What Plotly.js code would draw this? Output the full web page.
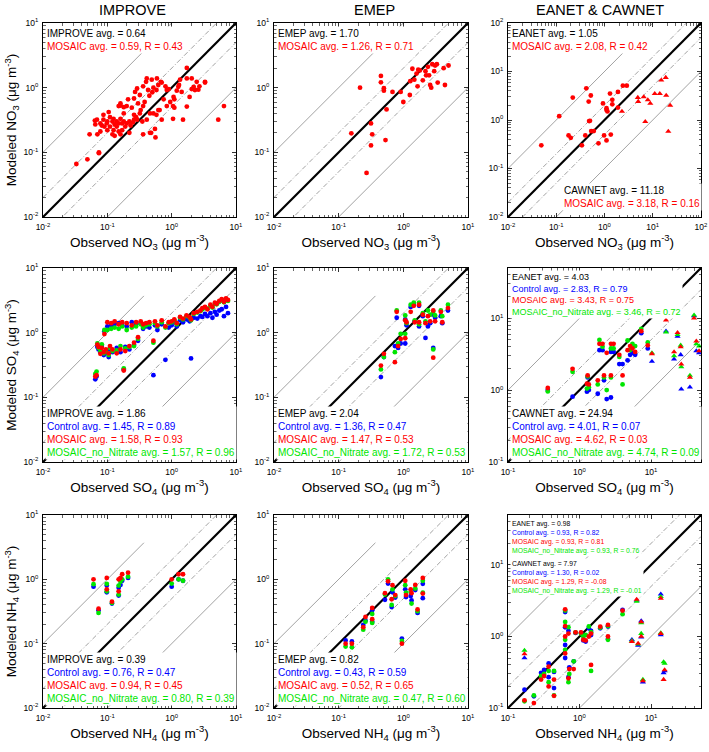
<!DOCTYPE html>
<html>
<head>
<meta charset="utf-8">
<script src="https://cdn.plot.ly/plotly-3.0.1.min.js"></script>
<style>
  html, body { margin: 0; padding: 0; background: #fff; }
  #chart { width: 709px; height: 752px; }
</style>
</head>
<body>
<div id="chart"></div>
<script>
// ---------------- data ----------------
const networkTitles = ["IMPROVE", "EMEP", "EANET &amp; CAWNET"];
const speciesNames = ["NO<sub>3</sub>", "SO<sub>4</sub>", "NH<sub>4</sub>"];

// NO3: [observed, MOSAIC]
const no3Improve = [
  [0.033,0.066],[0.049,0.078],[0.074,0.10],[0.074,0.097],[0.053,0.19],[0.07,0.19],[0.064,0.31],
  [1.72,2.02],[2.05,1.39],[1.72,1.39],[3.3,1.23],[3.3,1.2],[2.45,1.23],[2.7,1.05],[2.2,1.03],
  [2.3,0.92],[2.05,0.95],[2.6,0.93],[1.9,0.72],[1.35,1.33],[1.27,1.03],[1.72,0.51],[1.43,0.86],
  [1.1,0.66],[1.1,0.49],[1.07,0.72],[1.05,0.52],[1.05,0.33],[1.5,0.32],[6.5,0.52],[5.3,0.32],
  [0.84,0.52],[0.75,0.66],[0.68,1.23],[0.59,1.39],[0.49,1.33],[0.41,1.39],[0.4,1.23],[0.36,1.05],
  [0.43,0.92],[0.52,1.0],[0.58,0.92],[0.84,0.92],[0.29,0.97],[0.27,0.86],[0.26,0.68],[0.32,0.77],
  [0.3,0.57],[0.36,0.52],[0.46,0.4],[0.52,0.40],[0.58,0.38],[0.7,0.32],[0.55,0.23],[0.46,0.20],
  [0.56,0.17],[0.36,0.19],[0.41,0.32],[0.32,0.4],[0.26,0.38],[0.29,0.32],[0.24,0.49],[0.2,0.52],
  [0.21,0.66],[0.18,0.4],[0.16,0.33],[0.17,0.28],[0.14,0.3],[0.125,0.33],[0.11,0.35],[0.105,0.42],
  [0.087,0.38],[0.087,0.32],[0.078,0.28],[0.082,0.26],[0.098,0.28],[0.11,0.25],[0.125,0.22],
  [0.14,0.25],[0.15,0.21],[0.17,0.22],[0.19,0.25],[0.2,0.28],[0.23,0.26],[0.26,0.32],[0.12,0.19],
  [0.13,0.18],[0.16,0.19],[0.16,0.53],[0.16,0.57],[0.15,0.52],[0.069,0.32],[0.065,0.27],[0.078,0.21],
  [0.1,0.22],[0.12,0.3],[0.13,0.27],[0.15,0.28],[0.18,0.3],[0.22,0.3],[0.25,0.29],[0.28,0.35],
  [0.33,0.45],[0.38,0.6],[0.45,0.75],[0.5,0.85],[0.62,1.1],[0.7,1.2],[0.8,1.05],[0.9,0.95],
  [1.2,0.9],[1.3,1.1],[0.95,0.6],[0.65,0.45],[0.35,0.3],[0.22,0.2],[0.1,0.3],[0.09,0.25],
  [0.18,0.5],[0.62,0.45],[0.48,0.2]
];
const no3Emep = [
  [0.157,0.197],[0.214,1.0],[0.27,0.048],[0.316,0.28],[0.316,0.128],[0.33,0.19],[0.45,1.52],
  [0.45,1.21],[0.5,0.98],[0.5,0.9],[0.53,0.155],[0.55,0.46],[0.68,0.86],[0.91,0.86],[1.0,0.6],
  [1.26,0.77],[1.28,1.26],[1.38,1.96],[1.48,1.33],[1.66,1.05],[1.6,1.65],[1.7,1.9],[1.8,1.85],
  [2.0,1.3],[2.2,1.8],[2.25,1.55],[2.4,2.1],[2.5,1.55],[2.6,1.1],[2.7,1.0],[2.8,2.3],[3.1,2.2],
  [3.0,1.8],[3.3,2.3],[3.4,1.2],[4.2,2.0],[4.4,1.1],[5.0,2.2]
];
const no3Eanet = [
  [0.049,0.30],[0.115,1.2],[0.22,2.9],[0.18,0.48],[0.2,0.43],[0.42,4.5],[0.47,2.4],[0.52,3.2],
  [0.48,0.95],[0.5,0.96],[0.4,0.48],[0.34,0.3],[0.53,0.59],[0.6,0.59],[0.75,0.33],[0.93,2.2],
  [0.98,0.48],[1.1,1.75],[1.1,1.6],[1.15,1.5],[1.1,0.38],[1.3,3.5],[1.35,0.5],[1.45,2.6],
  [1.45,2.1],[1.9,3.8],[1.9,1.8],[2.4,5.1],[2.9,5.1]
];
const no3Cawnet = [
  [2.3,1.5],[4.9,2.9],[5.0,2.4],[6.5,3.0],[7.0,0.92],[7.9,2.6],[8.9,2.2],[11,3.5],[14,3.5],
  [15,6.6],[18.6,7.5],[19,3.2],[21,0.58],[23,2.0]
];

// SO4 and NH4: [observed, Control, MOSAIC, MOSAIC_no_Nitrate]
const so4Improve = [
  [0.065,0.19,0.21,0.23],[0.068,0.21,0.22,0.25],[0.07,0.60,0.65,0.68],[0.073,0.55,0.60,0.58],
  [0.078,0.50,0.47,0.52],[0.082,0.62,0.58,0.66],[0.088,0.45,0.50,0.48],[0.09,1.05,0.95,1.1],
  [0.095,0.48,0.55,0.52],[0.1,1.25,1.45,1.1],[0.105,0.42,0.48,0.45],[0.11,0.55,0.62,0.58],
  [0.115,1.30,1.40,1.15],[0.12,0.50,0.55,0.52],[0.13,1.35,1.50,1.20],[0.14,0.58,0.48,0.53],
  [0.15,1.40,1.35,1.15],[0.16,0.50,0.55,0.62],[0.17,1.30,1.45,1.25],[0.18,0.27,0.26,0.28],
  [0.19,0.60,0.52,0.57],[0.2,1.25,1.40,1.10],[0.22,0.55,0.62,0.6],[0.24,1.45,1.30,1.20],
  [0.26,0.65,0.70,0.62],[0.28,1.35,1.45,1.25],[0.3,0.75,0.85,0.80],[0.33,1.40,1.50,1.35],
  [0.36,1.15,1.35,1.20],[0.4,1.25,1.40,1.30],[0.45,1.20,1.45,1.35],[0.52,0.22,0.75,0.7],
  [0.55,1.30,1.50,1.40],[0.6,1.10,1.30,1.25],[0.7,1.35,1.55,1.45],[0.8,0.38,1.25,1.20],
  [0.9,1.20,1.45,1.40],[1.0,1.30,1.50,1.45],[1.1,1.45,1.60,1.55],[1.2,1.25,1.40,1.35],
  [1.35,1.55,1.75,1.70],[1.5,1.45,1.65,1.60],[1.7,1.60,1.85,1.80],[1.9,1.50,1.75,1.70],
  [2.0,0.40,1.60,1.55],[2.2,1.70,2.00,1.95],[2.5,1.65,2.10,2.05],[2.8,1.80,2.20,2.15],
  [3.0,1.75,2.40,2.30],[3.3,1.95,2.50,2.40],[3.6,1.80,2.30,2.35],[4.0,2.00,2.70,2.60],
  [4.3,1.70,2.50,2.45],[4.7,2.10,2.90,2.80],[5.0,1.90,2.80,2.75],[5.5,2.20,3.10,3.00],
  [6.0,2.30,3.30,3.20],[6.5,1.80,3.00,2.95],[7.0,2.50,3.40,3.30],[7.5,2.00,3.20,3.10]
];
const so4Emep = [
  [0.45,0.206,0.31,0.27],[0.5,0.42,0.47,0.42],[0.74,0.62,0.35,0.50],[0.79,1.70,2.10,2.20],
  [0.83,0.58,0.62,0.68],[0.91,0.68,0.80,0.96],[1.07,0.68,0.82,0.96],[1.07,1.60,1.55,1.85],
  [1.12,1.30,1.45,1.40],[1.3,2.50,2.10,2.70],[1.45,2.80,2.60,2.90],[1.5,1.50,1.45,1.55],
  [1.75,2.60,2.70,2.90],[1.75,1.25,1.45,1.35],[2.0,1.80,1.90,2.00],[2.2,0.83,1.40,1.50],
  [2.4,1.25,1.80,2.20],[2.6,1.40,1.50,1.90],[2.9,0.58,0.41,0.55],[2.9,1.90,2.20,2.10],
  [3.1,1.70,1.50,1.85],[3.8,1.80,2.10,2.20],[4.0,1.40,1.45,1.80],[4.9,2.20,2.40,2.70]
];
const so4Eanet = [
  [0.36,1.0,1.07,0.96],[0.8,0.81,1.98,1.8],[1.27,0.95,1.23,1.05],[1.3,1.5,1.6,1.55],
  [1.35,1.0,1.2,1.1],[1.8,0.89,1.37,1.2],[1.9,3.6,4.4,5.0],[2.1,3.6,4.4,4.0],[2.2,1.37,1.6,1.5],
  [2.4,0.75,3.3,1.0],[2.75,0.79,1.6,1.5],[2.75,3.4,4.4,3.8],[3.0,3.4,4.4,3.8],[3.6,2.3,3.1,2.9],
  [4.0,2.3,1.6,1.2],[4.7,2.6,3.6,4.9],[5.1,3.1,4.1,3.6],[5.5,3.3,3.8,4.4],[6.0,3.1,3.4,4.1],
  [7.3,6.2,6.6,7.1],[9.0,3.8,4.2,4.6]
];
const so4Cawnet = [
  [10.3,2.5,3.2,3.3],[16.2,6.6,9.4,6.4],[21,2.7,3.4,3.0],[23.5,5.6,6.3,5.9],[26,3.1,4.0,4.2],
  [26.5,1.03,2.3,2.1],[35,1.1,1.5,1.6],[40,10.8,10.0,11.0],[43,3.5,4.8,4.4],[47,3.3,3.5,4.1]
];
const nh4Improve = [
  [0.061,0.77,1.0,0.84],[0.073,0.33,0.35,0.30],[0.098,0.80,1.05,0.85],[0.098,0.63,0.70,0.65],
  [0.118,0.42,0.45,0.43],[0.15,0.74,1.0,0.80],[0.15,0.56,0.65,0.58],[0.16,0.82,1.05,0.92],
  [0.17,0.95,1.2,1.0],[0.21,1.05,1.27,1.1],[1.0,0.77,1.0,0.86],[1.28,1.0,1.2,1.0],[1.5,0.95,1.2,0.95]
];
const nh4Emep = [
  [0.128,0.112,0.10,0.09],[0.16,0.108,0.10,0.088],[0.24,0.195,0.18,0.165],[0.26,0.23,0.26,0.22],
  [0.33,0.33,0.36,0.29],[0.33,0.22,0.24,0.21],[0.52,0.48,0.61,0.58],[0.58,0.86,0.93,1.0],
  [0.66,0.37,0.49,0.40],[0.68,0.63,0.81,0.70],[0.75,0.52,0.57,0.55],[0.95,0.12,0.10,0.11],
  [1.07,0.70,0.95,0.81],[1.1,0.53,0.57,0.62],[1.3,0.55,0.70,0.64],[1.34,0.47,0.61,0.42],
  [1.53,0.68,0.82,0.72],[1.66,0.30,0.34,0.32],[2.0,0.85,1.05,0.95],[2.0,0.51,0.60,0.62]
];
const nh4Eanet = [
  [0.23,0.146,0.117,0.15],[0.17,0.18,0.128,0.124],[0.29,0.31,0.25,0.28],[0.32,0.34,0.28,0.30],
  [0.37,0.42,0.38,0.33],[0.37,0.27,0.20,0.23],[0.44,0.19,0.148,0.15],[0.44,0.32,0.25,0.33],
  [0.63,2.2,2.4,2.3],[0.63,1.35,1.4,1.6],[0.63,0.76,1.0,0.9],[0.63,0.5,0.58,0.65],
  [0.7,1.2,1.1,1.35],[0.7,0.27,0.26,0.23],[0.72,0.37,0.35,0.30],[0.83,0.45,0.35,0.45],
  [0.88,1.12,1.14,1.14],[1.05,1.12,1.14,1.10],[1.13,0.88,0.9,1.0],[1.22,0.85,0.88,1.05],
  [1.35,1.3,1.0,1.38],[1.45,1.05,0.4,0.33],[1.45,1.2,1.1,1.15],[1.95,1.3,1.37,1.33],
  [2.5,1.38,1.45,1.4],[2.5,0.92,1.0,0.9],[4.0,2.35,2.3,2.05]
];
const nh4Cawnet = [
  [0.17,0.5,0.57,0.64],[5.4,0.9,0.85,0.87],[6.3,3.2,3.3,3.1],[6.6,0.75,0.8,0.78],
  [7.3,1.65,1.6,1.55],[7.3,0.98,1.0,1.1],[7.7,0.23,0.24,0.25],[13.7,3.9,3.4,3.6],
  [13.7,1.05,1.1,1.12],[15,0.31,0.25,0.44],[15.5,0.33,0.34,0.42]
];

// statistics text shown in the panels
const statsNo3Improve = [["IMPROVE avg. = 0.64","k"],["MOSAIC avg. = 0.59, R = 0.43","r"]];
const statsNo3Emep = [["EMEP avg. = 1.70","k"],["MOSAIC avg. = 1.26, R = 0.71","r"]];
const statsNo3Eanet = [["EANET avg. = 1.05","k"],["MOSAIC avg. = 2.08, R = 0.42","r"]];
const statsNo3Cawnet = [["CAWNET avg. = 11.18","k"],["MOSAIC avg. = 3.18, R = 0.16","r"]];
const statsSo4Improve = [["IMPROVE avg. = 1.86","k"],["Control avg. = 1.45, R = 0.89","b"],["MOSAIC avg. = 1.58, R = 0.93","r"],["MOSAIC_no_Nitrate avg. = 1.57, R = 0.96","g"]];
const statsSo4Emep = [["EMEP avg. = 2.04","k"],["Control avg. = 1.36, R = 0.47","b"],["MOSAIC avg. = 1.47, R = 0.53","r"],["MOSAIC_no_Nitrate avg. = 1.72, R = 0.53","g"]];
const statsSo4Eanet = [["EANET avg. = 4.03","k"],["Control avg. = 2.83, R = 0.79","b"],["MOSAIC avg. = 3.43, R = 0.75","r"],["MOSAIC_no_Nitrate avg. = 3.46, R = 0.72","g"]];
const statsSo4Cawnet = [["CAWNET avg. = 24.94","k"],["Control avg. = 4.01, R = 0.07","b"],["MOSAIC avg. = 4.62, R = 0.03","r"],["MOSAIC_no_Nitrate avg. = 4.74, R = 0.09","g"]];
const statsNh4Improve = [["IMPROVE avg. = 0.39","k"],["Control avg. = 0.76, R = 0.47","b"],["MOSAIC avg. = 0.94, R = 0.45","r"],["MOSAIC_no_Nitrate avg. = 0.80, R = 0.39","g"]];
const statsNh4Emep = [["EMEP avg. = 0.82","k"],["Control avg. = 0.43, R = 0.59","b"],["MOSAIC avg. = 0.52, R = 0.65","r"],["MOSAIC_no_Nitrate avg. = 0.47, R = 0.60","g"]];
const statsNh4Eanet = [["EANET avg. = 0.98","k"],["Control avg. = 0.93, R = 0.82","b"],["MOSAIC avg. = 0.93, R = 0.81","r"],["MOSAIC_no_Nitrate avg. = 0.93, R = 0.76","g"]];
const statsNh4Cawnet = [["CAWNET avg. = 7.97","k"],["Control avg. = 1.30, R = 0.02","b"],["MOSAIC avg. = 1.29, R = -0.08","r"],["MOSAIC_no_Nitrate avg. = 1.29, R = -0.01","g"]];

// ---------------- styling / layout ----------------
const W = 709, H = 752;
const colPx = [[43, 236], [274, 468], [508, 701]];
const rowPx = [[23, 217], [268, 462], [515, 708]];
const colors = { k: "#000000", b: "#0000ff", r: "#ff0000", g: "#00e600" };
const FONT = "Liberation Sans, Arial, sans-serif";

const refRatios = [10, 2, 1, 0.5, 0.1];

const panels = [
  { row: 0, col: 0, range: [-2, 1], upperEnd: 1, sets: [{ d: no3Improve, sym: "circle" }],
    boxes: [{ s: statsNo3Improve, x: 0.008, y: 0.985, ya: "top", size: 10 }] },
  { row: 0, col: 1, range: [-2, 1], upperEnd: 1, sets: [{ d: no3Emep, sym: "circle" }],
    boxes: [{ s: statsNo3Emep, x: 0.008, y: 0.985, ya: "top", size: 10 }] },
  { row: 0, col: 2, range: [-2, 2], upperEnd: 10, sets: [{ d: no3Eanet, sym: "circle" }, { d: no3Cawnet, sym: "triangle-up" }],
    boxes: [{ s: statsNo3Eanet, x: 0.008, y: 0.985, ya: "top", size: 10 },
            { s: statsNo3Cawnet, x: 0.28, y: 0.03, ya: "bottom", size: 10 }] },
  { row: 1, col: 0, range: [-2, 1], upperEnd: 0.37, sets: [{ d: so4Improve, sym: "circle" }],
    boxes: [{ s: statsSo4Improve, x: 0.008, y: 0.012, ya: "bottom", size: 10 }] },
  { row: 1, col: 1, range: [-2, 1], upperEnd: 0.37, sets: [{ d: so4Emep, sym: "circle" }],
    boxes: [{ s: statsSo4Emep, x: 0.008, y: 0.012, ya: "bottom", size: 10 }] },
  { row: 1, col: 2, range: [-1, Math.log10(50)], upperEnd: 5, sets: [{ d: so4Eanet, sym: "circle" }, { d: so4Cawnet, sym: "triangle-up" }],
    boxes: [{ s: statsSo4Eanet, x: 0.008, y: 0.99, ya: "top", size: 9 },
            { s: statsSo4Cawnet, x: 0.008, y: 0.012, ya: "bottom", size: 10 }] },
  { row: 2, col: 0, range: [-2, 1], upperEnd: 0.37, sets: [{ d: nh4Improve, sym: "circle" }],
    boxes: [{ s: statsNh4Improve, x: 0.008, y: 0.012, ya: "bottom", size: 10 }] },
  { row: 2, col: 1, range: [-2, 1], upperEnd: 0.37, sets: [{ d: nh4Emep, sym: "circle" }],
    boxes: [{ s: statsNh4Emep, x: 0.008, y: 0.012, ya: "bottom", size: 10 }] },
  { row: 2, col: 2, range: [-1, Math.log10(50)], upperEnd: 5, sets: [{ d: nh4Eanet, sym: "circle" }, { d: nh4Cawnet, sym: "triangle-up" }],
    boxes: [{ s: statsNh4Eanet, x: 0.008, y: 0.985, ya: "top", size: 6.8 },
            { s: statsNh4Cawnet, x: 0.008, y: 0.775, ya: "top", size: 6.8 }] }
];

function logAxis(range, domain, anchor, titleText) {
  const tv = [], tt = [], mv = [];
  for (let d = Math.ceil(range[0] - 1e-9); d <= Math.floor(range[1] + 1e-9); d++) {
    tv.push(Math.pow(10, d));
    tt.push("10<sup>" + d + "</sup>");
  }
  for (let d = Math.floor(range[0]); d < range[1]; d++) {
    for (let k = 2; k <= 9; k++) {
      if (d + Math.log10(k) < range[1] - 1e-6) mv.push(k * Math.pow(10, d));
    }
  }
  return {
    type: "log", range: range, domain: domain, anchor: anchor,
    tickmode: "array", tickvals: tv, ticktext: tt,
    ticks: "inside", ticklen: 4, tickwidth: 0.8, tickcolor: "#000",
    minor: { tickmode: "array", tickvals: mv, ticks: "inside", ticklen: 2.5, tickwidth: 0.6, tickcolor: "#000", showgrid: false },
    showline: true, linecolor: "#000", linewidth: 1, mirror: "allticks",
    showgrid: false, zeroline: false,
    tickfont: { size: 8.5, color: "#000" },
    ticklabelstandoff: 2,
    title: { text: titleText, font: { size: 13.5, color: "#000" }, standoff: 3 }
  };
}

const traces = [];
const annotations = [];
const layout = {
  width: W, height: H,
  margin: { l: 0, r: 0, t: 0, b: 0 },
  paper_bgcolor: "#fff", plot_bgcolor: "#fff",
  font: { family: FONT, color: "#000" },
  showlegend: false
};

panels.forEach((p, i) => {
  const n = i + 1;
  const xa = n === 1 ? "x" : "x" + n;
  const ya = n === 1 ? "y" : "y" + n;
  const xDom = [colPx[p.col][0] / W, colPx[p.col][1] / W];
  const yDom = [1 - rowPx[p.row][1] / H, 1 - rowPx[p.row][0] / H];
  const sp = speciesNames[p.row];

  layout["xaxis" + (n === 1 ? "" : n)] = logAxis(p.range, xDom, ya,
    "Observed " + sp + " (μg m<sup>-3</sup>)");
  layout["yaxis" + (n === 1 ? "" : n)] = logAxis(p.range, yDom, xa,
    p.col === 0 ? "Modeled " + sp + " (μg m<sup>-3</sup>)" : "");

  // reference lines 10:1, 2:1, 1:1, 1:2, 1:10
  const x0 = Math.pow(10, p.range[0]);
  const x1 = Math.pow(10, p.range[1]);
  refRatios.forEach(r => {
    const xe = r === 10 ? p.upperEnd : x1;
    const line = r === 1
      ? { color: "#000", width: 2.2 }
      : (r === 2 || r === 0.5)
        ? { color: "#8a8a8a", width: 0.8, dash: "5px,2px,1px,2px" }
        : { color: "#8a8a8a", width: 0.8 };
    traces.push({
      x: [x0, xe], y: [x0 * r, xe * r],
      xaxis: xa, yaxis: ya, mode: "lines", line: line, hoverinfo: "skip"
    });
  });

  // observations vs. model
  p.sets.forEach(set => {
    const obs = set.d.map(v => v[0]);
    const size = set.sym === "circle" ? 4.8 : 5.4;
    if (set.d[0].length === 2) {
      traces.push({
        x: obs, y: set.d.map(v => v[1]), xaxis: xa, yaxis: ya, mode: "markers",
        marker: { color: colors.r, size: size, symbol: set.sym }
      });
    } else {
      [[1, "b"], [3, "g"], [2, "r"]].forEach(([col, c]) => {
        traces.push({
          x: obs, y: set.d.map(v => v[col]), xaxis: xa, yaxis: ya, mode: "markers",
          marker: { color: colors[c], size: size, symbol: set.sym }
        });
      });
    }
  });

  p.boxes.forEach(b => {
    annotations.push({
      xref: xa + " domain", yref: ya + " domain",
      x: b.x, y: b.y, xanchor: "left", yanchor: b.ya, align: "left",
      showarrow: false, bgcolor: "#fff", borderpad: 1,
      font: { size: b.size, family: FONT },
      text: b.s.map(l => '<span style="color:' + colors[l[1]] + '">' + l[0] + "</span>").join("<br>")
    });
  });
});

// column titles
const titleCenters = [132, 375, 600];
networkTitles.forEach((t, i) => {
  annotations.push({
    xref: "paper", yref: "paper", x: titleCenters[i] / W, y: 1 - 10 / H,
    xanchor: "center", yanchor: "middle", showarrow: false,
    text: t, font: { size: 14.5, family: FONT, color: "#000" }
  });
});

layout.annotations = annotations;

Plotly.newPlot("chart", traces, layout, { displayModeBar: false, staticPlot: true });
</script>
</body>
</html>
